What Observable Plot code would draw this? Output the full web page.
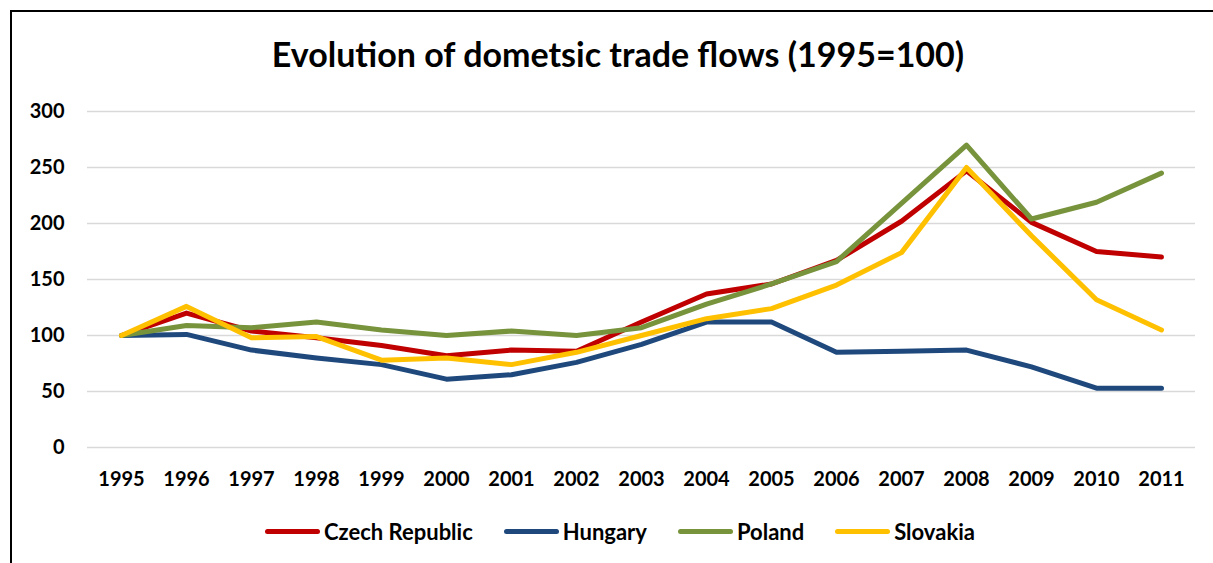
<!DOCTYPE html>
<html>
<head>
<meta charset="utf-8">
<script src="https://cdn.jsdelivr.net/npm/d3@7"></script>
<script src="https://cdn.jsdelivr.net/npm/@observablehq/plot@0.6"></script>
<style>
  html, body { margin: 0; padding: 0; background: #fff; overflow: hidden; }
  body { width: 1213px; height: 563px; position: relative; font-family: Lato, "Open Sans", sans-serif; }
  #frame { position: absolute; left: 10px; top: 10px; width: 1203px; height: 553px; border-left: 2px solid #000; border-top: 2px solid #000; box-sizing: border-box; }
  #title { position: absolute; left: 18px; top: 33px; width: 1200px; text-align: center; font-weight: 700; font-size: 34px; color: #000; white-space: nowrap; }
  #chart { position: absolute; left: 0; top: 90px; }
  #legend { position: absolute; left: 265px; top: 518px; display: flex; align-items: center; font-weight: 700; font-size: 22px; color: #000; white-space: nowrap; }
  .item { display: flex; align-items: center; margin-right: 31px; }
  .sw { width: 55px; height: 5px; border-radius: 3px; margin-right: 4px; }
</style>
</head>
<body>
<div id="frame"></div>
<div id="title">Evolution of dometsic trade flows (1995=100)</div>
<div id="chart"></div>
<div id="legend"></div>
<script>
const years = ["1995","1996","1997","1998","1999","2000","2001","2002","2003","2004","2005","2006","2007","2008","2009","2010","2011"];
const countries = ["Czech Republic", "Hungary", "Poland", "Slovakia"];
const colors = ["#C00000", "#1F497D", "#77933C", "#FFC000"];
const czech    = [100, 120, 104, 98, 91, 82, 87, 86, 112, 137, 146, 167, 202, 247, 201, 175, 170];
const hungary  = [100, 101, 87, 80, 74, 61, 65, 76, 92, 112, 112, 85, 86, 87, 72, 53, 53];
const poland   = [100, 109, 107, 112, 105, 100, 104, 100, 107, 128, 146, 166, 218, 270, 204, 219, 245];
const slovakia = [100, 126, 98, 99, 78, 80, 74, 85, 100, 115, 124, 145, 174, 250, 189, 132, 105];
const yTicks = [0, 50, 100, 150, 200, 250, 300];

const series = [czech, hungary, poland, slovakia];
const data = [];
countries.forEach((c, i) => years.forEach((y, j) => data.push({country: c, year: y, value: series[i][j]})));

const plot = Plot.plot({
  width: 1213,
  height: 402,
  marginLeft: 87,
  marginRight: 18,
  marginTop: 21,
  marginBottom: 45,
  style: {fontFamily: "Lato, sans-serif", fontWeight: 700, fontSize: "20px", color: "#000", background: "transparent"},
  x: {type: "point", domain: years, padding: 0.5, label: null, tickSize: 0, tickPadding: 24},
  y: {domain: [0, 300], ticks: yTicks, label: null, tickSize: 0, tickPadding: 23},
  color: {domain: countries, range: colors},
  marks: [
    Plot.ruleY(yTicks, {stroke: "#d9d9d9", strokeWidth: 1.5}),
    Plot.line(data, {x: "year", y: "value", z: "country", stroke: "country", strokeWidth: 5, strokeLinejoin: "round", strokeLinecap: "round"})
  ]
});
document.getElementById("chart").appendChild(plot);

const legend = document.getElementById("legend");
countries.forEach((c, i) => {
  const item = document.createElement("div");
  item.className = "item";
  const sw = document.createElement("div");
  sw.className = "sw";
  sw.style.background = colors[i];
  const t = document.createElement("span");
  t.textContent = c;
  item.appendChild(sw);
  item.appendChild(t);
  legend.appendChild(item);
});
</script>
</body>
</html>
